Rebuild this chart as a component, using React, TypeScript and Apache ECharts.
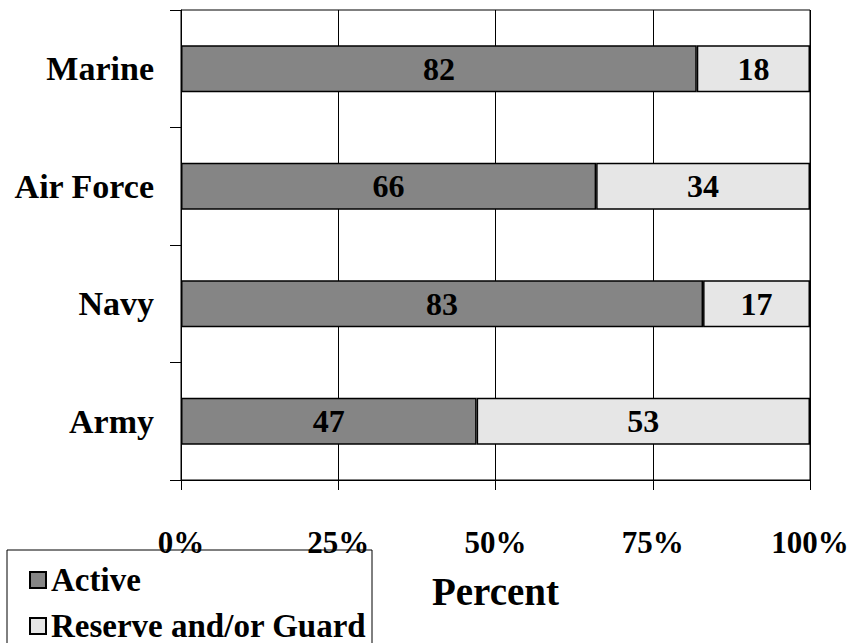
import React, { useEffect, useRef } from "react";
import * as echarts from "echarts";

const categories = ["Army", "Navy", "Air Force", "Marine"];
const activeValues = [47, 83, 66, 82];
const reserveValues = [53, 17, 34, 18];
const seriesNames = ["Active", "Reserve and/or Guard"];
const xTicks = [0, 25, 50, 75, 100];

const FONT = "'Liberation Serif', 'Times New Roman', serif";

export default function App() {
  const ref = useRef<HTMLDivElement>(null);

  useEffect(() => {
    if (!ref.current) return;
    const chart = echarts.init(ref.current, null, { renderer: "svg" });
    const labelStyle = {
      show: true,
      position: "inside",
      fontFamily: FONT,
      fontWeight: "bold",
      fontSize: 32,
      color: "#000",
    };
    const legendText = {
      fontFamily: FONT,
      fontWeight: "bold",
      fontSize: 33,
      lineHeight: 34,
      color: "#000",
    };
    chart.setOption({
      animation: false,
      backgroundColor: "#fff",
      grid: {
        left: 181,
        right: 44,
        top: 10,
        bottom: 163,
        show: true,
        borderColor: "#000",
        borderWidth: 1,
        backgroundColor: "transparent",
      },
      graphic: [
        {
          type: "rect",
          shape: { x: 7, y: 550, width: 365, height: 110 },
          style: { fill: "none", stroke: "#000", lineWidth: 1 },
          silent: true,
        },
      ],
      legend: [
        {
          orient: "vertical",
          left: 29,
          top: 563,
          padding: 0,
          itemWidth: 16,
          itemHeight: 16,
          icon: "rect",
          textStyle: legendText,
          data: [seriesNames[0]],
        },
        {
          orient: "vertical",
          left: 29,
          top: 609,
          padding: 0,
          itemWidth: 16,
          itemHeight: 16,
          icon: "rect",
          textStyle: legendText,
          data: [seriesNames[1]],
        },
      ],
      xAxis: {
        type: "value",
        min: xTicks[0],
        max: xTicks[xTicks.length - 1],
        interval: 25,
        name: "Percent",
        nameLocation: "middle",
        nameGap: 92,
        nameTextStyle: {
          fontFamily: FONT,
          fontWeight: "bold",
          fontSize: 39,
          color: "#000",
        },
        axisLine: { show: true, lineStyle: { color: "#000", width: 1 } },
        axisTick: { show: true, length: 10, lineStyle: { color: "#000" } },
        splitLine: { show: true, lineStyle: { color: "#000", width: 1 } },
        axisLabel: {
          margin: 47,
          formatter: (v: number) => v + "%",
          fontFamily: FONT,
          fontWeight: "bold",
          fontSize: 31,
          color: "#000",
        },
      },
      yAxis: {
        type: "category",
        data: categories,
        axisLine: { show: true, lineStyle: { color: "#000", width: 1 } },
        axisTick: { show: true, length: 11, lineStyle: { color: "#000" } },
        axisLabel: {
          margin: 27,
          fontFamily: FONT,
          fontWeight: "bold",
          fontSize: 34,
          color: "#000",
        },
      },
      series: [
        {
          name: seriesNames[0],
          type: "bar",
          stack: "total",
          barWidth: 47,
          data: activeValues,
          itemStyle: { color: "#858585", borderColor: "#000", borderWidth: 1.5 },
          label: labelStyle,
        },
        {
          name: seriesNames[1],
          type: "bar",
          stack: "total",
          barWidth: 47,
          data: reserveValues,
          itemStyle: { color: "#e6e6e6", borderColor: "#000", borderWidth: 1.5 },
          label: labelStyle,
        },
      ],
    });
    return () => chart.dispose();
  }, []);

  return (
    <div
      ref={ref}
      style={{ position: "fixed", left: 0, top: 0, width: 854, height: 643, background: "#fff" }}
    />
  );
}
